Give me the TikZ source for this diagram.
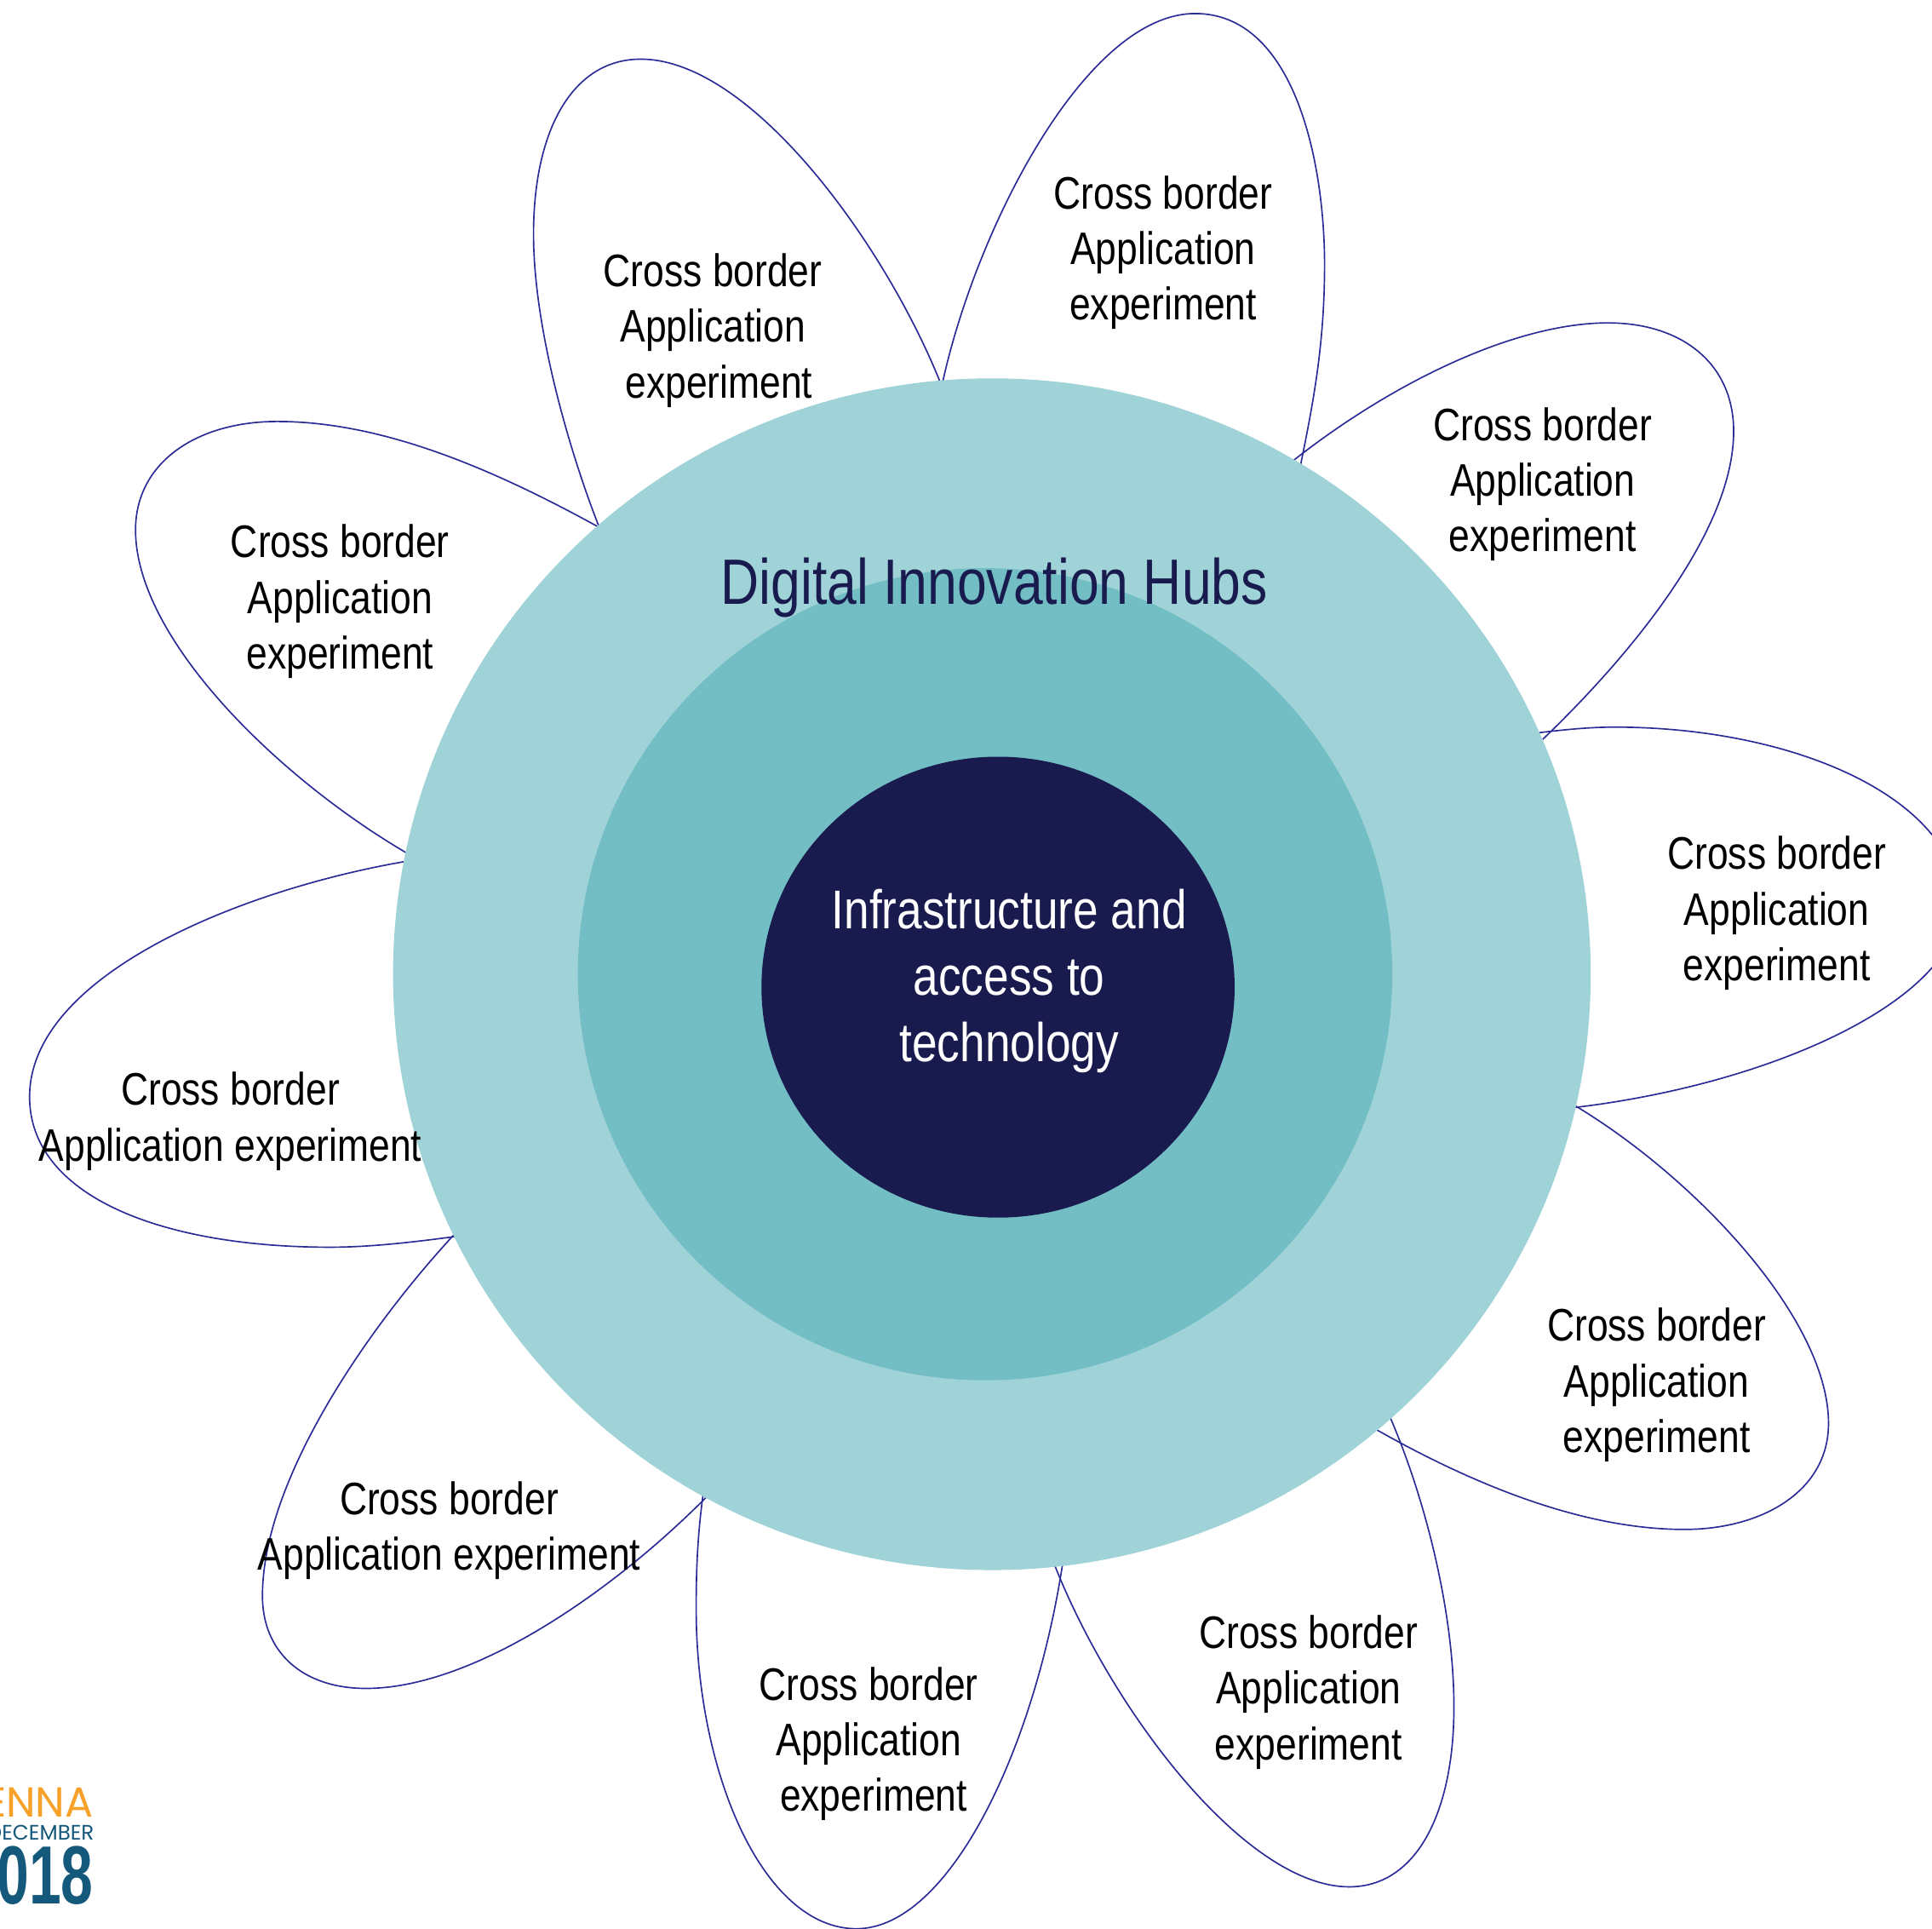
\documentclass[tikz,border=0pt]{standalone}
\usepackage{fontspec}
\setmainfont{Liberation Sans}[FakeStretch=0.83]
\newfontfamily\logofont{Poppins}
\newfontfamily\boldlogo{Liberation Sans}[FakeStretch=0.7,BoldFont={Liberation Sans Bold}]
\usetikzlibrary{shapes.geometric}
\definecolor{outerc}{HTML}{9FD3D7}
\definecolor{midc}{HTML}{73BEC5}
\definecolor{innerc}{HTML}{191A4E}
\definecolor{petalc}{HTML}{2B2B98}
\definecolor{logoo}{HTML}{F7A128}
\definecolor{logob}{HTML}{14587C}
\tikzset{
  petal/.style={draw=petalc,line width=1.15pt},
  disc/.style={ellipse,inner sep=0pt,outer sep=0pt},
  plabel/.style={align=center,text=black,inner sep=0pt,font=\fontsize{37}{45.2}\selectfont},
}
\begin{document}
\begin{tikzpicture}[x=1pt,y=-1pt]
\useasboundingbox (0,0) rectangle (1568,1565);
% petals
\draw[petal] (764,315) .. controls (790,190) and (880,11) .. (970,11) .. controls (1050,11) and (1075,130) .. (1075,215) .. controls (1075,285) and (1064,335) .. (1054,385);
\draw[petal] (765,315) .. controls (720,200) and (610,48) .. (520,48) .. controls (465,48) and (433,105) .. (433,190) .. controls (433,270) and (465,375) .. (488,432);
\draw[petal] (490,430) .. controls (400,380) and (310,342) .. (225,342) .. controls (160,342) and (110,375) .. (110,430) .. controls (110,520) and (230,635) .. (335,695);
\draw[petal] (335,698) .. controls (200,720) and (24,790) .. (24,890) .. controls (24,970) and (130,1012) .. (268,1012) .. controls (300,1012) and (335,1008) .. (372,1003);
\draw[petal] (372,998) .. controls (300,1075) and (213,1200) .. (213,1295) .. controls (213,1340) and (245,1370) .. (297,1370) .. controls (385,1370) and (500,1290) .. (578,1210);
\draw[petal] (571,1210) .. controls (566,1245) and (565,1275) .. (565,1305) .. controls (565,1440) and (620,1565) .. (695,1565) .. controls (770,1565) and (840,1420) .. (863,1265);
\draw[petal] (854,1265) .. controls (900,1385) and (1010,1531) .. (1095,1531) .. controls (1150,1531) and (1180,1470) .. (1180,1385) .. controls (1180,1305) and (1155,1210) .. (1126,1145);
\draw[petal] (1110,1156) .. controls (1195,1205) and (1285,1241) .. (1367,1241) .. controls (1430,1241) and (1484,1210) .. (1484,1155) .. controls (1484,1070) and (1375,955) .. (1278,897);
\draw[petal] (1275,899) .. controls (1440,880) and (1590,810) .. (1590,735) .. controls (1590,650) and (1460,590) .. (1310,590) .. controls (1290,590) and (1270,592) .. (1245,595);
\draw[petal] (1048,375) .. controls (1130,310) and (1230,262) .. (1305,262) .. controls (1365,262) and (1407,295) .. (1407,350) .. controls (1407,430) and (1325,530) .. (1252,600);
% discs
\node[disc,fill=outerc,minimum width=972pt,minimum height=967pt] (outer) at (805,790.5) {};
\node[disc,fill=midc,minimum width=661pt,minimum height=659pt] (mid) at (799.5,790.5) {};
\node[disc,fill=innerc,minimum width=384pt,minimum height=374pt] (inner) at (810,801) {};
% central text
\node[inner sep=0pt,text=innerc,font=\fontsize{52}{60}\selectfont] (hubs) at (807,477) {Digital Innovation Hubs};
\node[align=center,inner sep=0pt,text=white,font=\fontsize{44.3}{54}\selectfont] (infra) at (819,796) {Infrastructure and\\access to\\technology};
% petal labels
\node[plabel] (l1) at (944,205) {Cross border\\Application\\experiment};
\node[plabel] (l2) at (578.5,268) {Cross border\\Application\\\hspace*{10pt}experiment};
\node[plabel] (l3) at (276,488) {Cross border\\Application\\experiment};
\node[plabel] (l4) at (187,910) {Cross border\\Application experiment};
\node[plabel] (l5) at (364.5,1242) {Cross border\\Application experiment};
\node[plabel] (l6) at (705,1415) {Cross border\\Application\\\hspace*{8pt}experiment};
\node[plabel] (l7) at (1062,1373) {Cross border\\Application\\experiment};
\node[plabel] (l8) at (1344.5,1124) {Cross border\\Application\\experiment};
\node[plabel] (l9) at (1442,741) {Cross border\\Application\\experiment};
\node[plabel] (l10) at (1252,393) {Cross border\\Application\\experiment};
% logo
\node[anchor=base east,inner sep=0pt,text=logoo,font=\logofont\fontsize{34}{34}\selectfont] (lg1) at (76,1474) {ENNA};
\node[anchor=base east,inner sep=0pt,text=logob,font=\logofont\fontsize{17}{17}\selectfont] (lg2) at (76.5,1493) {DECEMBER};
\node[anchor=base east,inner sep=0pt,text=logob,font=\boldlogo\bfseries\fontsize{67}{67}\selectfont] (lg3) at (76,1545) {018};
\end{tikzpicture}
\end{document}
